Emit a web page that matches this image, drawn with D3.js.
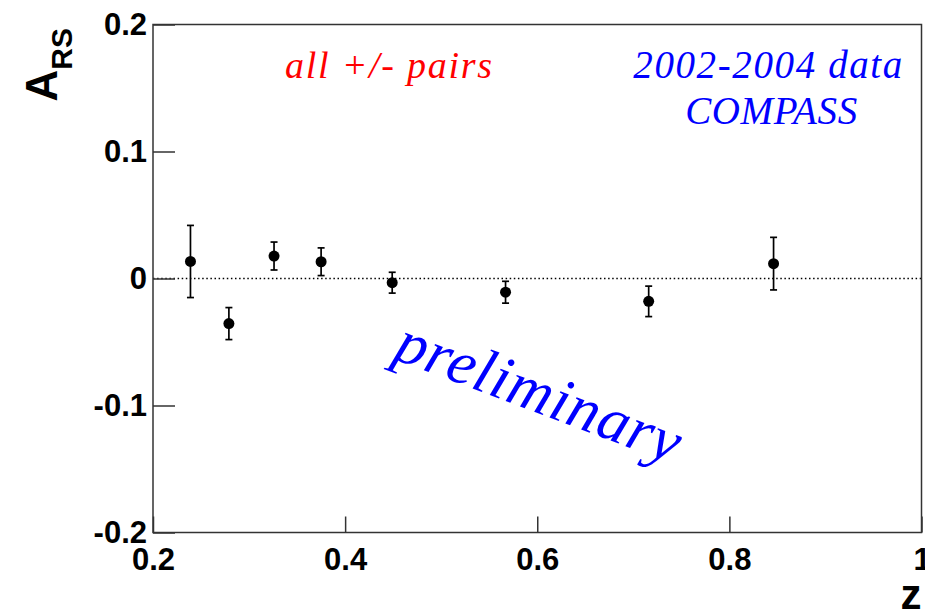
<!DOCTYPE html>
<html>
<head>
<meta charset="utf-8">
<script src="https://cdn.jsdelivr.net/npm/d3@7"></script>
<style>
  body { margin: 0; background: #fff; }
  svg { display: block; }
</style>
</head>
<body>
<div id="chart"></div>
<script>
// data points
var zVals = [0.239, 0.279, 0.326, 0.375, 0.449, 0.567, 0.716, 0.846],
    aVals = [0.0134, -0.0355, 0.0177, 0.0132, -0.0033, -0.0108, -0.0180, 0.0117],
    aErrs = [0.0284, 0.0126, 0.0110, 0.0109, 0.0082, 0.0086, 0.0120, 0.0207];

var xTicks = [0.2, 0.4, 0.6, 0.8, 1],
    yTicks = [-0.2, -0.1, 0, 0.1, 0.2];

var margin = {top: 24.5, right: 3.5, bottom: 79.5, left: 153},
    width = 925 - margin.left - margin.right,
    height = 612 - margin.top - margin.bottom;

var x = d3.scaleLinear().domain([0.2, 1]).range([0, width]),
    y = d3.scaleLinear().domain([-0.2, 0.2]).range([height, 0]);

var fmt = function(d) { return d === 0 ? "0" : String(+d.toFixed(1)); };

var svg = d3.select("#chart").append("svg")
    .attr("width", 925)
    .attr("height", 612)
  .append("g")
    .attr("transform", "translate(" + margin.left + "," + margin.top + ")");

// zero line
svg.append("line")
    .attr("x1", 0).attr("x2", width)
    .attr("y1", y(0)).attr("y2", y(0))
    .attr("stroke", "#000")
    .attr("stroke-width", 1.5)
    .attr("stroke-dasharray", "1.5,2.6");

// axes
var xAxis = svg.append("g")
    .attr("transform", "translate(0," + height + ")")
    .call(d3.axisBottom(x).tickValues(xTicks).tickFormat(fmt).tickSizeInner(-16).tickSizeOuter(0).tickPadding(15));

var yAxis = svg.append("g")
    .call(d3.axisLeft(y).tickValues(yTicks).tickFormat(fmt).tickSizeInner(-22).tickSizeOuter(0).tickPadding(6));

[xAxis, yAxis].forEach(function(a) {
    a.select(".domain").remove();
    a.selectAll("line").attr("stroke", "#333").attr("stroke-width", 1.5);
    a.selectAll("text")
        .attr("fill", "#000")
        .style("font-family", "'Liberation Sans', Arial, sans-serif")
        .style("font-weight", "bold")
        .style("font-size", "31px");
});

// frame
svg.append("rect")
    .attr("width", width)
    .attr("height", height)
    .attr("fill", "none")
    .attr("stroke", "#333")
    .attr("stroke-width", 1.5);

// error bars
var pts = svg.append("g").selectAll("g")
    .data(d3.range(zVals.length))
  .enter().append("g");

pts.append("line")
    .attr("x1", function(i) { return x(zVals[i]); })
    .attr("x2", function(i) { return x(zVals[i]); })
    .attr("y1", function(i) { return y(aVals[i] + aErrs[i]); })
    .attr("y2", function(i) { return y(aVals[i] - aErrs[i]); })
    .attr("stroke", "#000")
    .attr("stroke-width", 1.7);

[1, -1].forEach(function(s) {
    pts.append("line")
        .attr("x1", function(i) { return x(zVals[i]) - 3.5; })
        .attr("x2", function(i) { return x(zVals[i]) + 3.5; })
        .attr("y1", function(i) { return y(aVals[i] + s * aErrs[i]); })
        .attr("y2", function(i) { return y(aVals[i] + s * aErrs[i]); })
        .attr("stroke", "#000")
        .attr("stroke-width", 1.7);
});

pts.append("circle")
    .attr("cx", function(i) { return x(zVals[i]); })
    .attr("cy", function(i) { return y(aVals[i]); })
    .attr("r", 5.5)
    .attr("fill", "#000");

// labels
var serif = "'Liberation Serif', 'Times New Roman', serif";

svg.append("text")
    .attr("x", x(0.3375)).attr("y", y(0.1578))
    .attr("textLength", 207)
    .attr("fill", "#ff0000")
    .style("font-family", serif).style("font-style", "italic").style("font-size", "38px")
    .text("all +/- pairs");

svg.append("text")
    .attr("x", x(0.84)).attr("y", y(0.1578))
    .attr("text-anchor", "middle")
    .attr("textLength", 269)
    .attr("fill", "#0000ff")
    .style("font-family", serif).style("font-style", "italic").style("font-size", "39px")
    .text("2002-2004 data");

svg.append("text")
    .attr("x", x(0.8435)).attr("y", y(0.122))
    .attr("text-anchor", "middle")
    .attr("textLength", 172)
    .attr("fill", "#0000ff")
    .style("font-family", serif).style("font-style", "italic").style("font-size", "39px")
    .text("COMPASS");

svg.append("text")
    .attr("transform", "translate(" + x(0.4485) + "," + y(-0.0625) + ") rotate(20.7)")
    .attr("textLength", 300)
    .attr("fill", "#0000ff")
    .style("font-family", serif).style("font-style", "italic").style("font-size", "62px")
    .text("preliminary");

// axis titles
var yTitle = svg.append("text")
    .attr("transform", "translate(" + (57 - margin.left) + "," + (28 - margin.top) + ") rotate(-90)")
    .attr("text-anchor", "end")
    .style("font-family", "'Liberation Sans', Arial, sans-serif")
    .style("font-weight", "bold");
yTitle.append("tspan").style("font-size", "44px").text("A");
yTitle.append("tspan").attr("dy", 15).style("font-size", "30px").text("RS");

svg.append("text")
    .attr("x", width).attr("y", 609 - margin.top)
    .attr("text-anchor", "end")
    .style("font-family", "'Liberation Sans', Arial, sans-serif")
    .style("font-weight", "bold")
    .style("font-size", "42px")
    .text("z");
</script>
</body>
</html>
